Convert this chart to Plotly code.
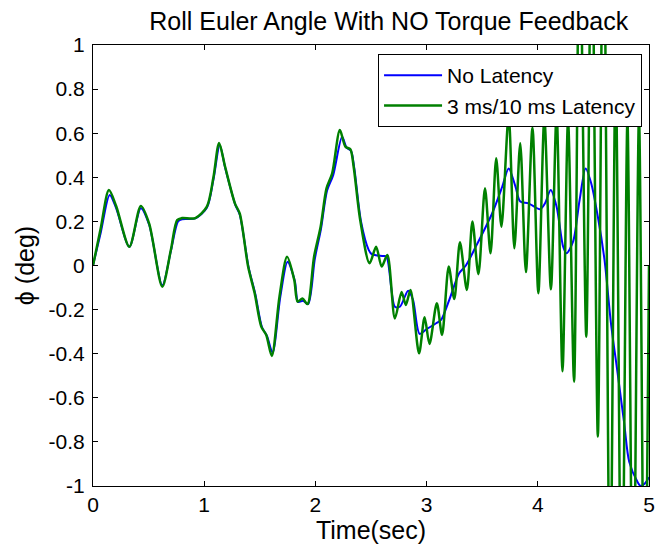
import plotly.graph_objects as go

# ---- data ----
t_no_latency = [0.0, 0.07, 0.15, 0.208, 0.327, 0.43, 0.505, 0.623, 0.70, 0.765, 0.80, 0.92,
                1.024, 1.083, 1.14, 1.19, 1.28, 1.32, 1.40, 1.46, 1.52, 1.565, 1.615, 1.685,
                1.75, 1.815, 1.845, 1.89, 1.935, 1.995, 2.05, 2.105, 2.16, 2.24, 2.28, 2.32,
                2.35, 2.41, 2.48, 2.51, 2.61, 2.64, 2.715, 2.76, 2.834, 2.878, 2.937, 2.997,
                3.086, 3.13, 3.204, 3.293, 3.353, 3.442, 3.59, 3.68, 3.738, 3.798, 3.842,
                3.916, 4.02, 4.065, 4.116, 4.169, 4.228, 4.258, 4.317, 4.376, 4.43, 4.48,
                4.54, 4.6, 4.658, 4.718, 4.777, 4.822, 4.895, 4.925, 4.96, 5.0]
phi_no_latency = [0.0, 0.15, 0.32, 0.26, 0.085, 0.26, 0.185, -0.09, 0.065, 0.2, 0.21, 0.214,
                  0.262, 0.39, 0.545, 0.44, 0.275, 0.23, -0.01, -0.13, -0.28, -0.32, -0.395, -0.14,
                  0.017, -0.07, -0.165, -0.16, -0.175, 0.03, 0.165, 0.34, 0.41, 0.584, 0.535, 0.52,
                  0.44, 0.2, 0.07, 0.05, 0.043, 0.04, -0.187, -0.187, -0.114, -0.156, -0.31, -0.29,
                  -0.262, -0.247, -0.156, -0.035, 0.0, 0.085, 0.237, 0.357, 0.44, 0.36, 0.29,
                  0.282, 0.255, 0.282, 0.342, 0.267, 0.085, 0.055, 0.108, 0.297, 0.44, 0.373,
                  0.221, 0.025, -0.262, -0.489, -0.716, -0.89, -0.98, -1.0, -0.99, -0.96]

t_latency = [0.0, 0.07, 0.143, 0.208, 0.327, 0.43, 0.505, 0.623, 0.70, 0.757, 0.80, 0.92,
             1.024, 1.083, 1.134, 1.187, 1.276, 1.32, 1.395, 1.454, 1.513, 1.558, 1.608, 1.677,
             1.745, 1.81, 1.84, 1.884, 1.929, 1.988, 2.047, 2.10, 2.151, 2.22, 2.27, 2.314,
             2.344, 2.403, 2.487, 2.546, 2.596, 2.647, 2.715, 2.775, 2.813, 2.855, 2.932, 2.982,
             3.026, 3.092, 3.139, 3.199, 3.249, 3.30, 3.362, 3.412, 3.466, 3.525, 3.575, 3.626,
             3.673, 3.738, 3.789, 3.842, 3.893, 3.952, 4.005, 4.059, 4.118, 4.169, 4.222, 4.272,
             4.326, 4.376, 4.436, 4.484, 4.54, 4.59, 4.65, 4.70, 4.755, 4.806, 4.857, 4.91,
             4.96, 5.0]
phi_latency = [0.0, 0.17, 0.342, 0.27, 0.085, 0.27, 0.19, -0.096, 0.07, 0.206, 0.215, 0.215,
               0.267, 0.40, 0.556, 0.45, 0.282, 0.235, -0.005, -0.126, -0.277, -0.315, -0.41, -0.141,
               0.04, -0.066, -0.164, -0.15, -0.175, 0.04, 0.176, 0.35, 0.418, 0.614, 0.539, 0.527,
               0.448, 0.206, 0.01, 0.085, -0.005, 0.048, -0.24, -0.12, -0.179, -0.111, -0.398, -0.235,
               -0.356, -0.171, -0.315, -0.005, -0.152, 0.105, -0.111, 0.199, -0.04, 0.35, 0.055, 0.486,
               0.176, 0.68, 0.078, 0.554, -0.03, 0.625, -0.126, 0.668, -0.108, 0.69, -0.48, 0.66,
               -0.527, 1.6, -0.323, 1.7, -0.776, 1.8, -1.6, 0.9, -1.8, 0.66, -1.8, 0.675,
               -1.8, 0.0]

x_ticks = [0, 1, 2, 3, 4, 5]
x_tick_labels = ["0", "1", "2", "3", "4", "5"]
y_ticks = [-1, -0.8, -0.6, -0.4, -0.2, 0, 0.2, 0.4, 0.6, 0.8, 1]
y_tick_labels = ["-1", "-0.8", "-0.6", "-0.4", "-0.2", "0", "0.2", "0.4", "0.6", "0.8", "1"]

series_names = ["No Latency", "3 ms/10 ms Latency"]
series_colors = ["#0000FF", "#008000"]

FONT = "Liberation Sans, Arial, sans-serif"

fig = go.Figure()
fig.add_trace(go.Scatter(x=t_no_latency, y=phi_no_latency, mode="lines",
                         name=series_names[0],
                         line=dict(color=series_colors[0], width=2, shape="spline", smoothing=0.8)))
fig.add_trace(go.Scatter(x=t_latency, y=phi_latency, mode="lines",
                         name=series_names[1],
                         line=dict(color=series_colors[1], width=2.5, shape="spline", smoothing=0.8)))

axis_common = dict(
    showline=True, linecolor="black", linewidth=1, mirror="ticks",
    ticks="inside", ticklen=5, tickcolor="black", tickwidth=1,
    showgrid=False, zeroline=False,
    tickfont=dict(family=FONT, size=21, color="black"),
)

fig.update_layout(
    width=662, height=545,
    margin=dict(l=93, r=7, t=45, b=59),
    paper_bgcolor="white", plot_bgcolor="white",
    font=dict(family=FONT, color="black"),
    title=dict(text="Roll Euler Angle With NO Torque Feedback",
               font=dict(family=FONT, size=25, color="black"),
               x=0.532, xref="paper", xanchor="center",
               y=1 - 21 / 545, yref="container", yanchor="middle"),
    xaxis=dict(range=[0, 5], tickvals=x_ticks, ticktext=x_tick_labels,
               title=dict(text="Time(sec)", font=dict(family=FONT, size=25, color="black"),
                          standoff=3),
               **axis_common),
    yaxis=dict(range=[-1, 1], tickvals=y_ticks, ticktext=y_tick_labels,
               title=dict(text="ϕ (deg)", font=dict(family=FONT, size=25, color="black"),
                          standoff=6),
               ticklabelstandoff=3,
               **axis_common),
    legend=dict(x=0.9875, y=0.9796, xanchor="right", yanchor="top",
                bgcolor="white", bordercolor="black", borderwidth=1,
                font=dict(family=FONT, size=21, color="black"),
                itemwidth=58, tracegroupgap=0),
    showlegend=True,
)

fig.write_html("out.html")
